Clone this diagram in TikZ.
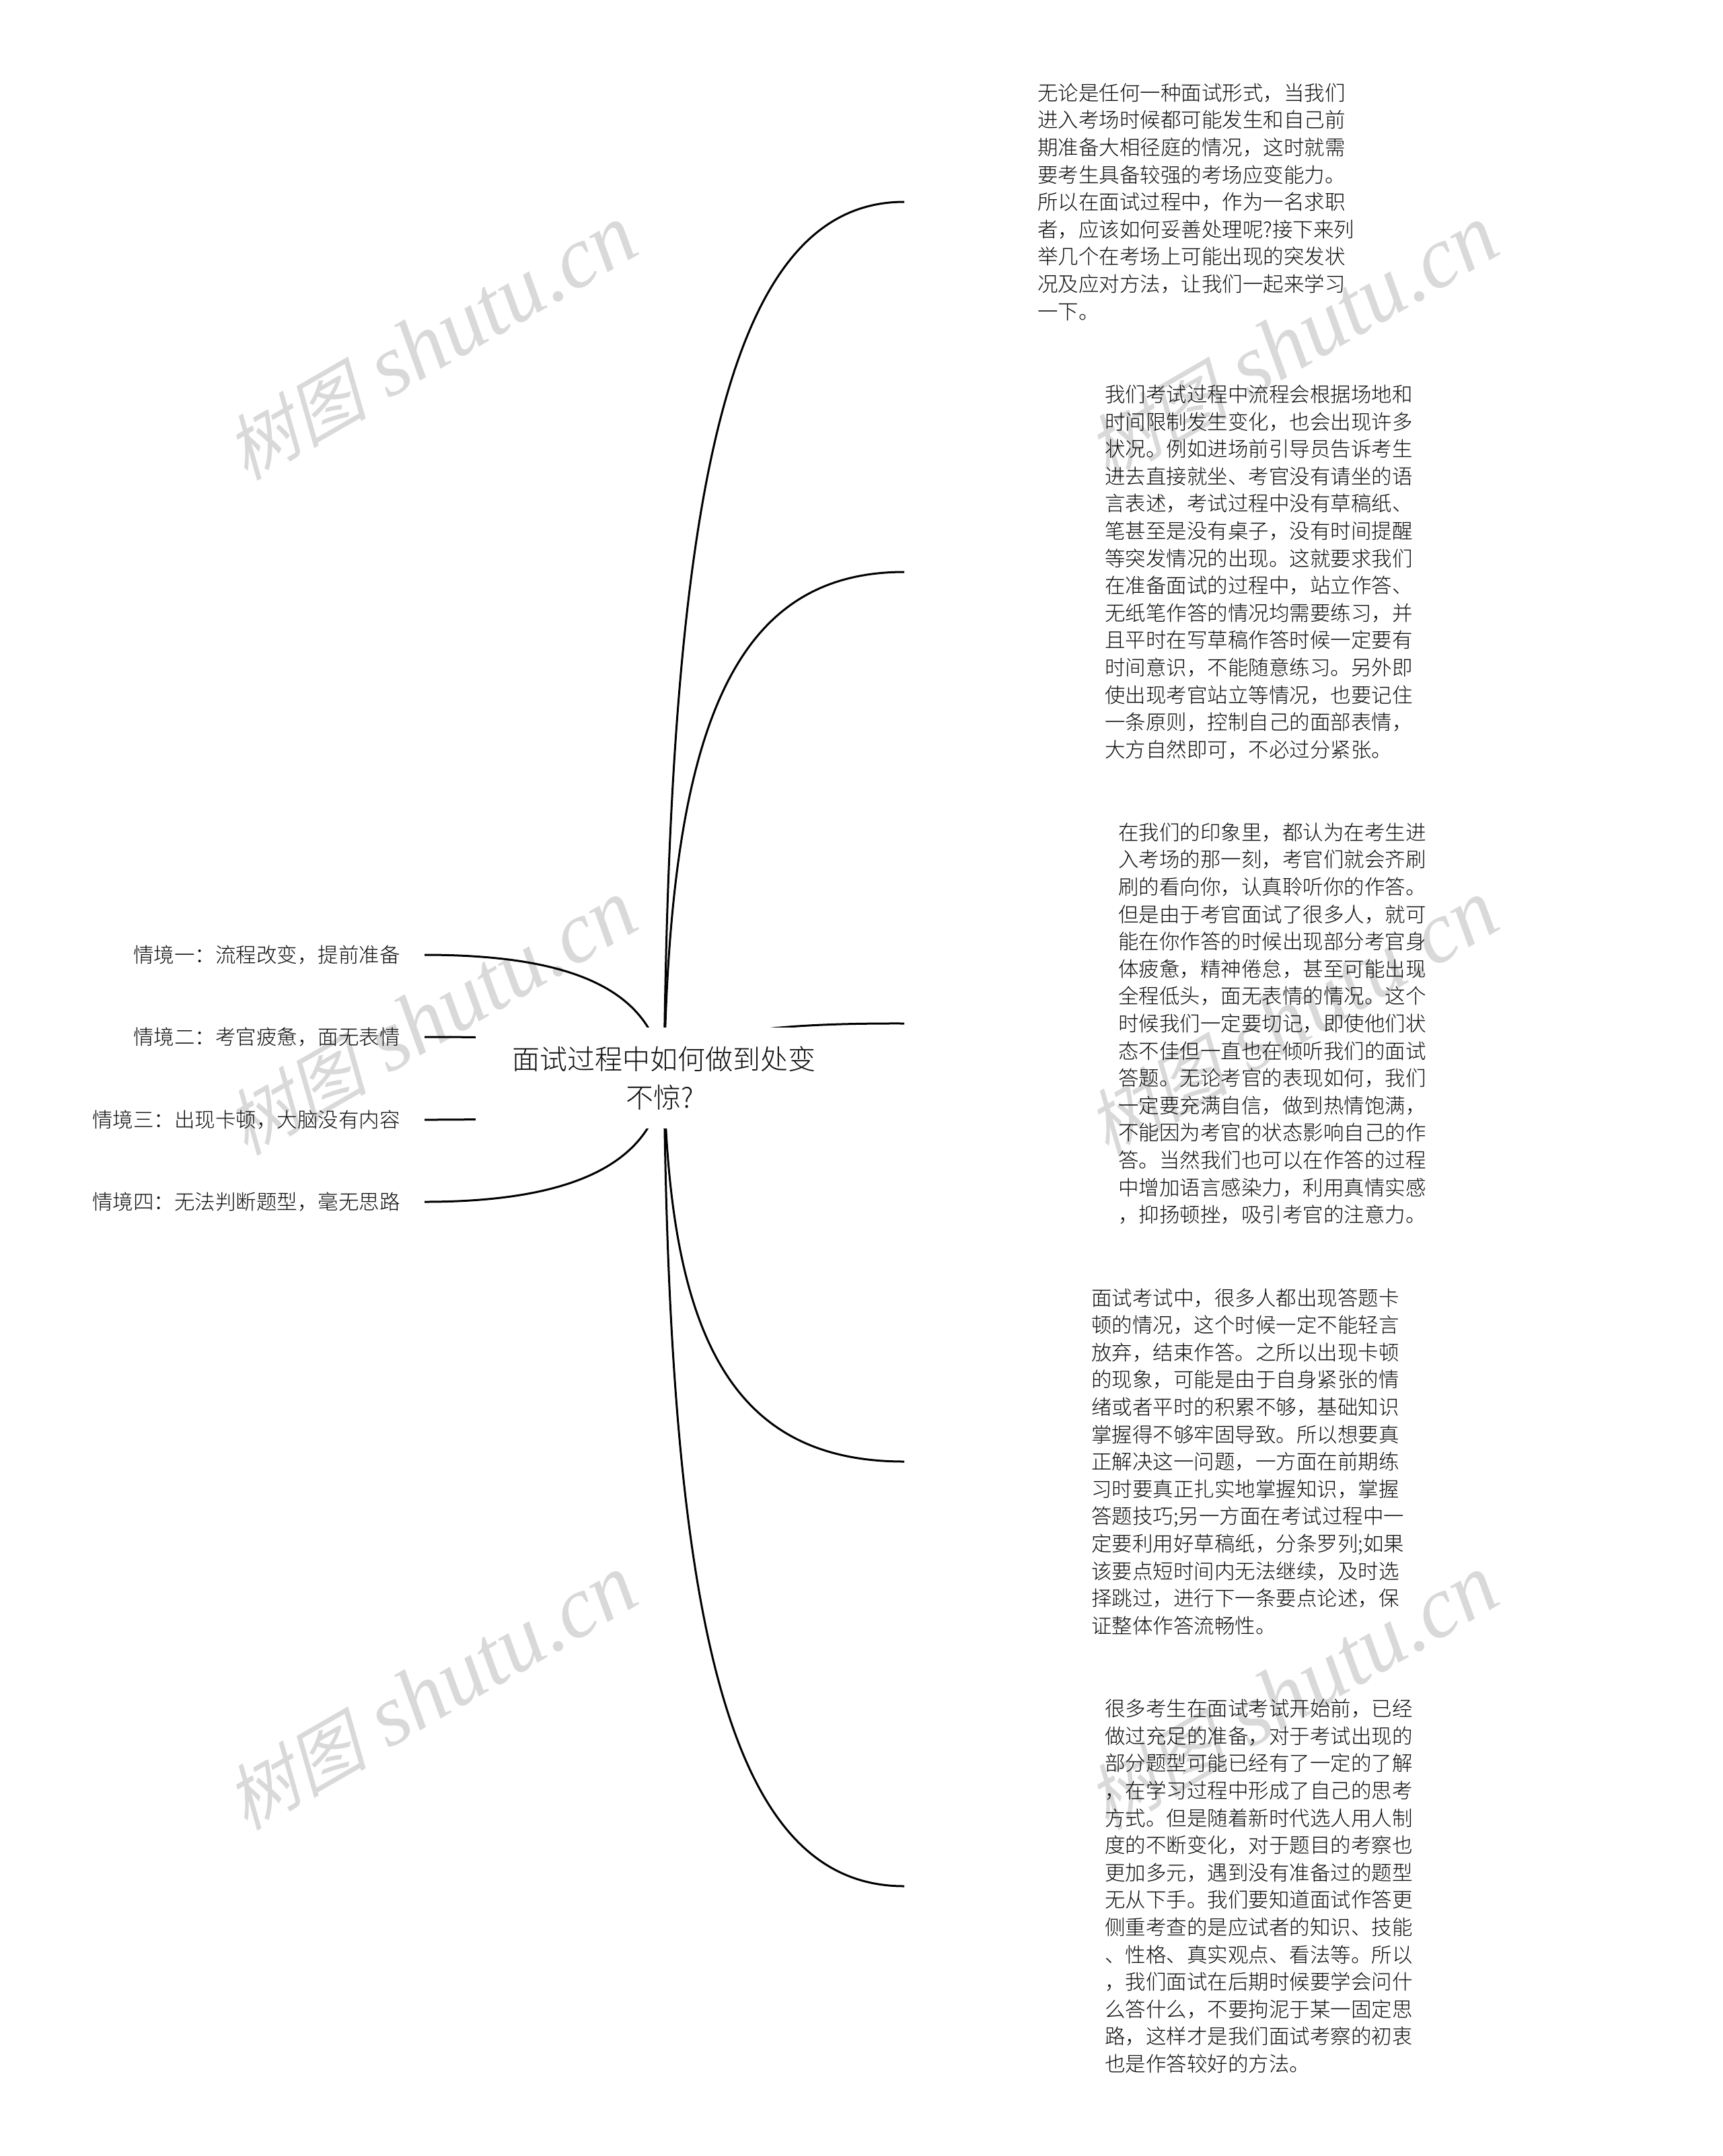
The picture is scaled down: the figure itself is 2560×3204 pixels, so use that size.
\documentclass[tikz,border=0pt]{standalone}
\usepackage{fontspec}
\usetikzlibrary{backgrounds}
\newfontfamily\cjk{Noto Sans CJK SC}[UprightFont={* Light}]
\newfontfamily\wmcjk{Noto Sans CJK SC}[FakeSlant=0.25]
\newfontfamily\wmlatin{Liberation Serif}
\definecolor{wmgray}{RGB}{217,217,217}
\definecolor{inkgray}{RGB}{15,15,15}
\newcommand{\wmtext}{{\fontsize{106pt}{106pt}\selectfont\wmcjk 树图} shutu.cn}
\tikzset{
	watermark/.style={rotate=30,text=wmgray,font=\fontsize{130pt}{130pt}\selectfont\wmlatin\itshape},
	rootbox/.style={fill=white,minimum width=560pt,minimum height=150pt,inner sep=0pt,align=center,text=inkgray,font=\fontsize{41pt}{57pt}\selectfont\cjk},
	sidelabel/.style={anchor=east,inner xsep=36pt,inner ysep=0pt,text=inkgray,font=\fontsize{30.5pt}{40pt}\selectfont\cjk},
	textblock/.style={anchor=west,inner xsep=#1,inner ysep=0pt,align=left,text=inkgray,font=\fontsize{30.5pt}{40.6pt}\selectfont\cjk},
	branch/.style={draw=black,line width=3pt}
}
\begin{document}
\begin{tikzpicture}[x=1pt,y=-1pt]
			\useasboundingbox (0,0) rectangle (2560,3204);
			
			\node[rootbox] (root) at (987,1602) {面试过程中如何做到处变\\不惊?\hspace*{12pt}};
			
			\node[sidelabel] (sit1) at (631,1419) {情境一：流程改变，提前准备};
			\node[sidelabel] (sit2) at (631,1541) {情境二：考官疲惫，面无表情};
			\node[sidelabel] (sit3) at (631,1664) {情境三：出现卡顿，大脑没有内容};
			\node[sidelabel] (sit4) at (631,1786) {情境四：无法判断题型，毫无思路};
			
			\node[textblock=198pt] (txt1) at (1344,300) {无论是任何一种面试形式，当我们\\进入考场时候都可能发生和自己前\\期准备大相径庭的情况，这时就需\\要考生具备较强的考场应变能力。\\所以在面试过程中，作为一名求职\\者，应该如何妥善处理呢?接下来列\\举几个在考场上可能出现的突发状\\况及应对方法，让我们一起来学习\\一下。};
			
			\node[textblock=298pt] (txt2) at (1344,850) {我们考试过程中流程会根据场地和\\时间限制发生变化，也会出现许多\\状况。例如进场前引导员告诉考生\\进去直接就坐、考官没有请坐的语\\言表述，考试过程中没有草稿纸、\\笔甚至是没有桌子，没有时间提醒\\等突发情况的出现。这就要求我们\\在准备面试的过程中，站立作答、\\无纸笔作答的情况均需要练习，并\\且平时在写草稿作答时候一定要有\\时间意识，不能随意练习。另外即\\使出现考官站立等情况，也要记住\\一条原则，控制自己的面部表情，\\大方自然即可，不必过分紧张。};
			
			\node[textblock=318pt] (txt3) at (1344,1521) {在我们的印象里，都认为在考生进\\入考场的那一刻，考官们就会齐刷\\刷的看向你，认真聆听你的作答。\\但是由于考官面试了很多人，就可\\能在你作答的时候出现部分考官身\\体疲惫，精神倦怠，甚至可能出现\\全程低头，面无表情的情况。这个\\时候我们一定要切记，即使他们状\\态不佳但一直也在倾听我们的面试\\答题。无论考官的表现如何，我们\\一定要充满自信，做到热情饱满，\\不能因为考官的状态影响自己的作\\答。当然我们也可以在作答的过程\\中增加语言感染力，利用真情实感\\，抑扬顿挫，吸引考官的注意力。};
			
			\node[textblock=278pt] (txt4) at (1344,2172) {面试考试中，很多人都出现答题卡\\顿的情况，这个时候一定不能轻言\\放弃，结束作答。之所以出现卡顿\\的现象，可能是由于自身紧张的情\\绪或者平时的积累不够，基础知识\\掌握得不够牢固导致。所以想要真\\正解决这一问题，一方面在前期练\\习时要真正扎实地掌握知识，掌握\\答题技巧;另一方面在考试过程中一\\定要利用好草稿纸，分条罗列;如果\\该要点短时间内无法继续，及时选\\择跳过，进行下一条要点论述，保\\证整体作答流畅性。};
			
			\node[textblock=298pt] (txt5) at (1344,2803) {很多考生在面试考试开始前，已经\\做过充足的准备，对于考试出现的\\部分题型可能已经有了一定的了解\\，在学习过程中形成了自己的思考\\方式。但是随着新时代选人用人制\\度的不断变化，对于题目的考察也\\更加多元，遇到没有准备过的题型\\无从下手。我们要知道面试作答更\\侧重考查的是应试者的知识、技能\\、性格、真实观点、看法等。所以\\，我们面试在后期时候要学会问什\\么答什么，不要拘泥于某一固定思\\路，这样才是我们面试考察的初衷\\也是作答较好的方法。};
			
			\begin{pgfonlayer}{background}
				\node[watermark] (wm1) at (640,510) {\wmtext};
				\node[watermark] (wm2) at (1920,510) {\wmtext};
				\node[watermark] (wm3) at (640,1513) {\wmtext};
				\node[watermark] (wm4) at (1920,1513) {\wmtext};
				\node[watermark] (wm5) at (640,2516) {\wmtext};
				\node[watermark] (wm6) at (1920,2516) {\wmtext};
				
				\draw[branch] (root.center) .. controls (995,700) and (1090,300) .. (txt1.west);
				\draw[branch] (root.center) .. controls (995,1080) and (1090,850) .. (txt2.west);
				\draw[branch] (root.center) .. controls (995,1545) and (1090,1520) .. (txt3.west);
				\draw[branch] (root.center) .. controls (995,1990) and (1090,2172) .. (txt4.west);
				\draw[branch] (root.center) .. controls (995,2440) and (1090,2803) .. (txt5.west);
				
				\draw[branch] (root.center) .. controls (975,1470) and (850,1419) .. (sit1.east);
				\draw[branch] (root.center) .. controls (900,1545) and (800,1541) .. (sit2.east);
				\draw[branch] (root.center) .. controls (900,1660) and (800,1664) .. (sit3.east);
				\draw[branch] (root.center) .. controls (975,1730) and (850,1786) .. (sit4.east);
			\end{pgfonlayer}
		\end{tikzpicture}
\end{document}
